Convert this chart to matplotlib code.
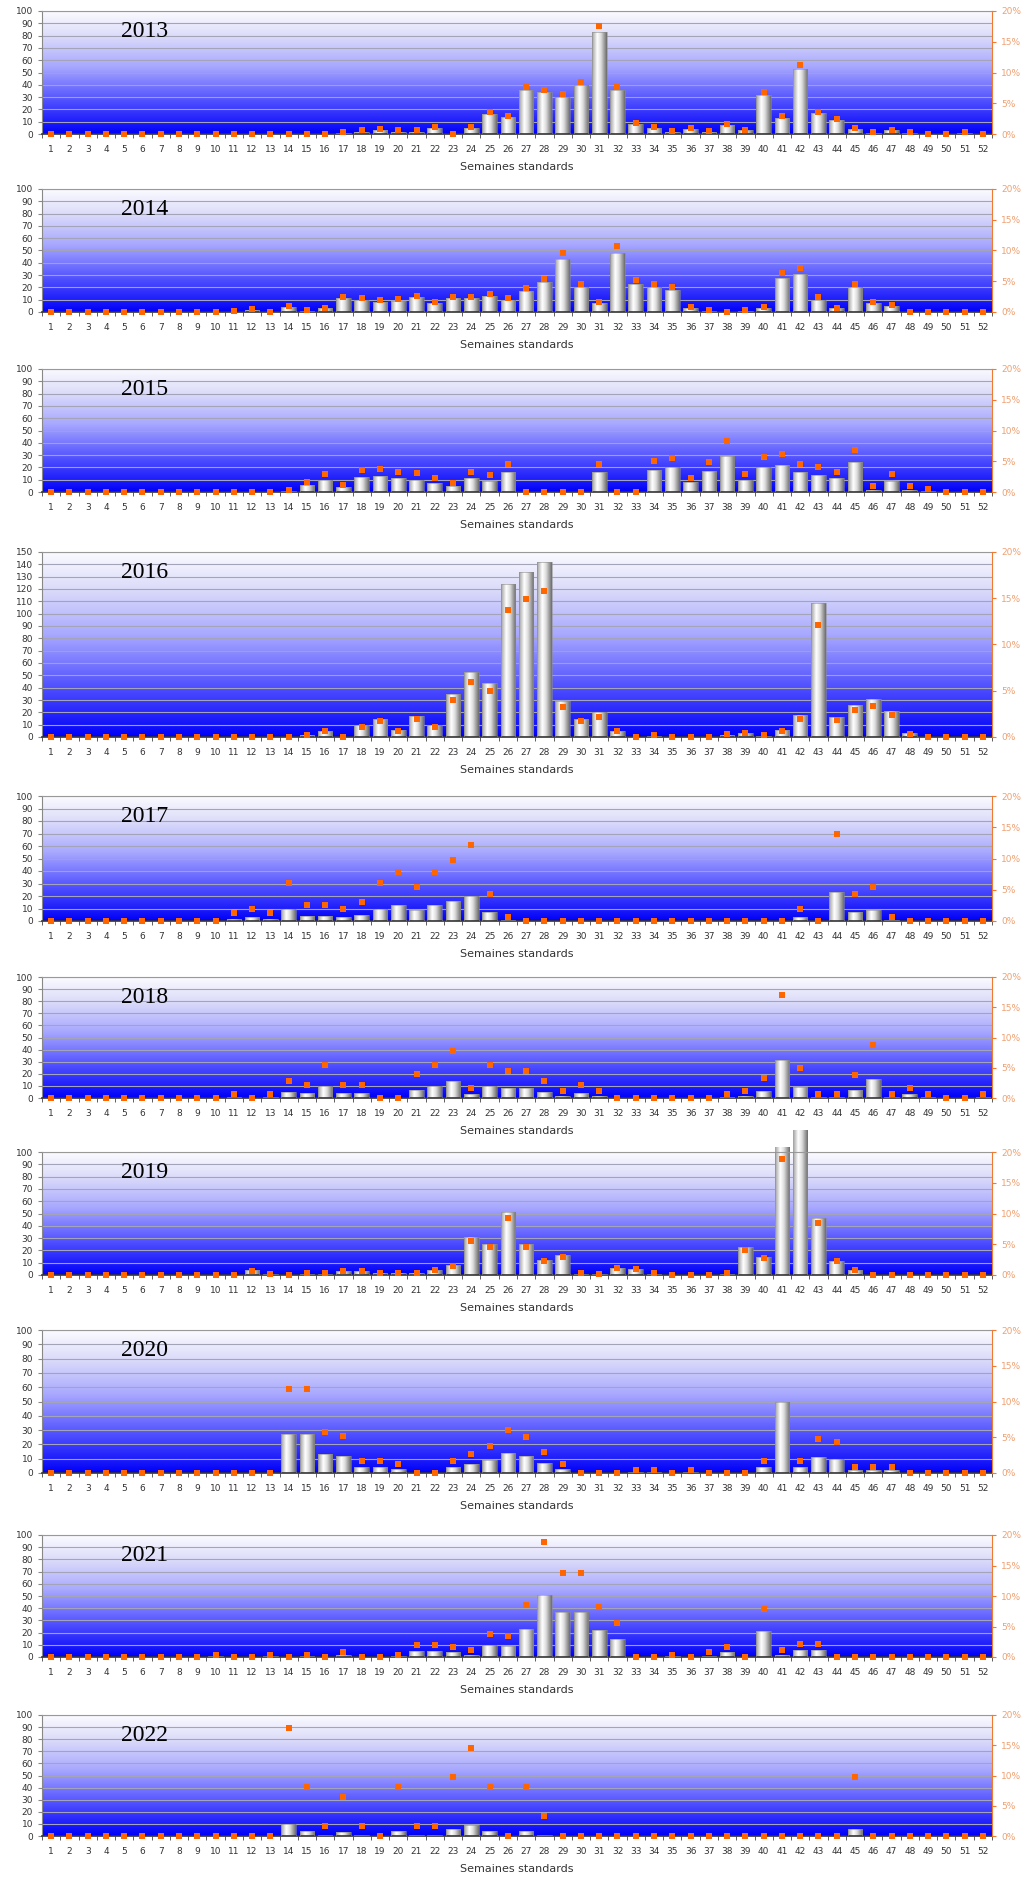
import numpy as np
import matplotlib
matplotlib.use("Agg")
import matplotlib.pyplot as plt
from matplotlib.colors import LinearSegmentedColormap

weeks = list(range(1, 53))
years = [2013, 2014, 2015, 2016, 2017, 2018, 2019, 2020, 2021, 2022]

# weekly counts (left axis)
cases_2013 = [0] * 16 + [1, 2, 3, 2, 2, 5, 0, 5, 16, 14, 36, 34, 30, 40, 83, 36, 8, 5, 2, 4,
                         2, 7, 3, 32, 13, 53, 17, 11, 4, 1, 3, 1, 0, 0, 1, 0]
cases_2014 = [0] * 11 + [2, 0, 4, 1, 3, 11, 10, 8, 9, 12, 7, 11, 11, 13, 10, 17, 24, 43, 20, 7,
                         48, 23, 20, 18, 3, 1, 0, 1, 3, 28, 31, 10, 3, 20, 7, 5] + [0] * 5
cases_2015 = [0] * 13 + [1, 6, 10, 4, 12, 13, 11, 10, 7, 5, 11, 9, 16, 0, 0, 0, 0, 16, 0, 0,
                         18, 20, 8, 17, 29, 10, 20, 22, 16, 14, 11, 24, 2, 9, 2, 1] + [0] * 3
cases_2016 = [0] * 14 + [2, 5, 0, 10, 15, 6, 17, 10, 35, 53, 44, 124, 134, 142, 29, 15, 20, 5,
                         0, 1, 0, 0, 0, 2, 3, 1, 6, 18, 109, 16, 26, 31, 21, 3] + [0] * 4
cases_2017 = [0] * 10 + [2, 3, 2, 10, 4, 4, 3, 5, 10, 13, 9, 13, 16, 20, 7, 1] + [0] * 15 + \
             [3, 0, 23, 7, 9, 1] + [0] * 5
cases_2018 = [0] * 10 + [0.5, 0, 0.5, 5, 4, 10, 4, 4, 0, 0, 7, 10, 14, 3, 10, 8, 8, 5, 2, 4, 2] + \
             [0] * 6 + [0.5, 2, 6, 31, 9, 0.5, 0.5, 7, 16, 0.5, 3, 0.5, 0, 0, 0.5]
cases_2019 = [0] * 11 + [4, 1, 0, 1, 1, 3, 3, 2, 2, 2, 4, 8, 31, 25, 51, 25, 12, 16, 1, 1, 6, 5,
                         1, 0, 0, 0, 1, 23, 15, 104, 118, 46, 11, 4] + [0] * 7
cases_2020 = [0] * 13 + [27, 27, 13, 12, 4, 4, 3, 0, 0, 4, 6, 9, 14, 12, 7, 3, 0, 0, 0, 0.5, 0.5,
                         0, 0.5, 0, 0, 0, 4, 50, 4, 11, 10, 2, 2, 2] + [0] * 5
cases_2021 = [0] * 9 + [1, 0, 0, 1, 0, 1, 0, 2, 0, 0, 1, 5, 5, 4, 2, 10, 9, 23, 51, 37, 37, 22,
                        15, 0, 0, 1, 0, 1, 4, 0, 21, 2, 6, 6] + [0] * 9
cases_2022 = [0] * 13 + [10, 4, 1, 3, 1, 0, 4, 1, 1, 6, 9, 4, 0, 4, 1] + [0] * 16 + [6] + [0] * 7

# weekly share in % (right axis)
pct_2013 = [0] * 16 + [0.3, 0.6, 0.8, 0.7, 0.7, 1.2, 0, 1.2, 3.5, 3.0, 7.6, 7.2, 6.5, 8.5, 17.6,
                       7.6, 1.8, 1.2, 0.5, 0.9, 0.5, 1.6, 0.6, 6.9, 2.9, 11.2, 3.6, 2.4, 1.0, 0.3,
                       0.7, 0.3, 0, 0, 0.3, 0]
pct_2014 = [0] * 10 + [0.2, 0.5, 0, 0.9, 0.3, 0.7, 2.5, 2.3, 1.9, 2.1, 2.6, 1.6, 2.5, 2.5, 2.9,
                       2.3, 3.9, 5.4, 9.6, 4.5, 1.6, 10.8, 5.2, 4.5, 4.1, 0.8, 0.3, 0, 0.3, 0.8,
                       6.3, 7.1, 2.4, 0.7, 4.5, 1.6, 1.2] + [0] * 5
pct_2015 = [0] * 13 + [0.4, 1.7, 2.9, 1.2, 3.6, 3.8, 3.2, 3.1, 2.2, 1.5, 3.3, 2.8, 4.6, 0, 0, 0,
                       0, 4.6, 0, 0, 5.1, 5.6, 2.3, 4.9, 8.3, 2.9, 5.7, 6.2, 4.6, 4.0, 3.3, 6.9,
                       1.0, 2.9, 0.9, 0.5] + [0] * 3
pct_2016 = [0] * 14 + [0.2, 0.6, 0, 1.1, 1.7, 0.6, 1.9, 1.1, 4.0, 5.9, 5.0, 13.7, 14.9, 15.8,
                       3.2, 1.7, 2.2, 0.6, 0, 0.2, 0, 0, 0, 0.3, 0.4, 0.2, 0.7, 2.0, 12.1, 1.8,
                       2.9, 3.4, 2.4, 0.3] + [0] * 4
pct_2017 = [0] * 10 + [1.3, 1.9, 1.3, 6.1, 2.5, 2.5, 1.9, 3.0, 6.1, 7.8, 5.5, 7.8, 9.7, 12.1, 4.3,
                       0.6] + [0] * 15 + [1.9, 0, 13.9, 4.3, 5.5, 0.6] + [0] * 5
pct_2018 = [0] * 10 + [0.7, 0, 0.7, 2.8, 2.2, 5.5, 2.2, 2.2, 0, 0, 3.9, 5.5, 7.7, 1.6, 5.5, 4.4,
                       4.4, 2.8, 1.1, 2.2, 1.1] + [0] * 6 + \
           [0.7, 1.1, 3.3, 17.0, 4.9, 0.7, 0.7, 3.8, 8.8, 0.7, 1.7, 0.7, 0, 0, 0.7]
pct_2019 = [0] * 11 + [0.7, 0.2, 0, 0.4, 0.4, 0.7, 0.7, 0.4, 0.4, 0.4, 0.8, 1.5, 5.6, 4.6, 9.2,
                       4.6, 2.3, 2.9, 0.3, 0.2, 1.1, 0.9, 0.4, 0, 0, 0, 0.4, 4.1, 2.8, 18.9, 21.3,
                       8.4, 2.2, 0.8] + [0] * 7
pct_2020 = [0] * 13 + [11.7, 11.7, 5.7, 5.2, 1.7, 1.7, 1.3, 0, 0, 1.7, 2.7, 3.8, 6.0, 5.1, 3.0,
                       1.3, 0, 0, 0, 0.4, 0.4, 0, 0.4, 0, 0, 0, 1.7, 21.7, 1.7, 4.8, 4.3, 0.9,
                       0.9, 0.9] + [0] * 5
pct_2021 = [0] * 9 + [0.4, 0, 0, 0.4, 0, 0.4, 0, 0.8, 0, 0, 0.4, 1.9, 1.9, 1.6, 1.1, 3.7, 3.4,
                      8.5, 18.9, 13.7, 13.7, 8.2, 5.6, 0, 0, 0.4, 0, 0.8, 1.6, 0, 7.9, 1.1, 2.2,
                      2.2] + [0] * 9
pct_2022 = [0] * 13 + [17.9, 8.1, 1.6, 6.5, 1.6, 0, 8.1, 1.6, 1.6, 9.7, 14.5, 8.1, 0, 8.1,
                       3.3] + [0] * 16 + [9.7] + [0] * 7

cases = [cases_2013, cases_2014, cases_2015, cases_2016, cases_2017,
         cases_2018, cases_2019, cases_2020, cases_2021, cases_2022]
pcts = [pct_2013, pct_2014, pct_2015, pct_2016, pct_2017,
        pct_2018, pct_2019, pct_2020, pct_2021, pct_2022]
ymax = [100, 100, 100, 150, 100, 100, 100, 100, 100, 100]

# plot area of each panel in pixels (top, bottom)
W, H = 1026, 1878
boxes = [(11, 134), (189, 312), (369, 492), (552, 737), (796, 921),
         (977, 1098), (1152, 1275), (1330, 1473), (1535, 1657), (1715, 1836)]
left_px, right_px = 42, 992

bg_cmap = LinearSegmentedColormap.from_list(
    "bg", [(0, "#0000f8"), (0.25, "#4a4aff"), (0.55, "#a8a8ff"), (0.8, "#dcdcfa"), (1, "#fbfbff")])
bar_cmap = LinearSegmentedColormap.from_list(
    "bar", [(0, "#a0a0a0"), (0.35, "#ffffff"), (0.6, "#dedede"), (1, "#6c6c6c")])
orange = "#f07a30"

fig = plt.figure(figsize=(W / 100, H / 100), dpi=100)

for year, counts, pct, (top, bot), ym in zip(years, cases, pcts, boxes, ymax):
    ax = fig.add_axes([left_px / W, 1 - bot / H, (right_px - left_px) / W, (bot - top) / H])

    # gradient background
    ax.imshow(np.linspace(0, 1, 256).reshape(-1, 1), cmap=bg_cmap, origin="lower",
              extent=(0, 1, 0, 1), transform=ax.transAxes, aspect="auto", zorder=0)

    bars = ax.bar(weeks, counts, width=0.8, facecolor="none", edgecolor="#8c8c8c",
                  linewidth=0.4, zorder=3)
    grad = np.linspace(0, 1, 64).reshape(1, -1)
    for b in bars:
        if b.get_height() <= 0:
            continue
        im = ax.imshow(grad, cmap=bar_cmap, aspect="auto", zorder=2,
                       extent=(b.get_x(), b.get_x() + b.get_width(), 0, b.get_height()))
        im.set_clip_path(b)

    ax.set_xlim(0.5, 52.5)
    ax.set_ylim(0, ym)
    ax.set_axisbelow(True)
    ax.yaxis.grid(True, color="#a4a4b8", linewidth=0.8)
    ax.set_yticks(range(0, ym + 1, 10))
    ax.set_xticks(weeks)
    ax.set_xticks(np.arange(0.5, 53, 1), minor=True)
    ax.tick_params(axis="y", labelsize=6.5, labelcolor="#333333", color="#888888", length=3)
    ax.tick_params(axis="x", which="major", labelsize=6.5, labelcolor="#333333", length=0, pad=8)
    ax.tick_params(axis="x", which="minor", length=3, color="#444444")
    ax.set_xlabel("Semaines standards", fontsize=8, color="#333333", labelpad=6)

    ax.spines["left"].set_color("#888888")
    ax.spines["top"].set_color("#999999")
    ax.spines["bottom"].set_color("#333333")
    ax.spines["bottom"].set_linewidth(1.2)
    ax.spines["right"].set_visible(False)

    ax.annotate(str(year), xy=(0.108, 1), xycoords="axes fraction", xytext=(0, -15),
                textcoords="offset points", ha="center", va="center",
                fontsize=17, family="Liberation Serif", color="black")

    ax2 = ax.twinx()
    shown = np.array(pct, dtype=float)
    shown = np.where(shown <= 20, shown, np.nan)
    ax2.plot(weeks, shown, "s", color="#ff6600", markersize=4, markeredgewidth=0,
             clip_on=False, zorder=5)
    ax2.set_ylim(0, 20)
    ax2.set_yticks([0, 5, 10, 15, 20])
    ax2.set_yticklabels([f"{v}%" for v in [0, 5, 10, 15, 20]])
    ax2.tick_params(axis="y", labelsize=6.5, labelcolor="#f0a070", color=orange, length=3)
    for s in ["left", "top", "bottom"]:
        ax2.spines[s].set_visible(False)
    ax2.spines["right"].set_color(orange)

fig.savefig("out.png", dpi=100)
